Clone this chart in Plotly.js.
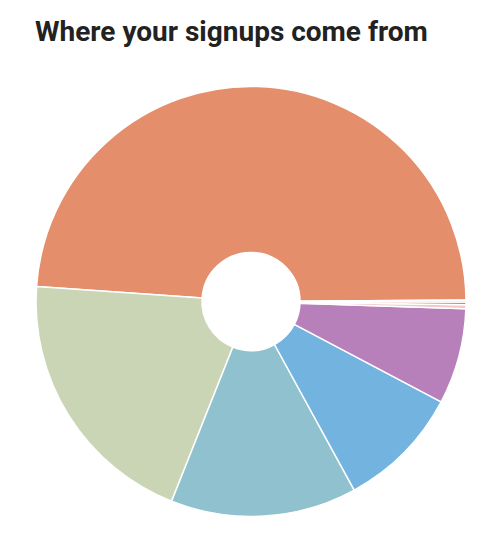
<!DOCTYPE html>
<html>
<head>
<meta charset="utf-8">
<script src="https://cdn.plot.ly/plotly-3.0.1.min.js"></script>
<style>
  html, body { margin: 0; padding: 0; background: #fff; }
  #myDiv { width: 494px; height: 552px; }
</style>
</head>
<body>
<div id="myDiv"></div>
<script>
// signup sources (percent of total)
var sources = ["Organic search", "Referral", "Social", "Direct", "Email", "Paid ads", "Events", "Other"];
var shares = [48.8, 20.1, 14.0, 9.3, 7.2, 0.3, 0.2, 0.15];
var sliceColors = ["#E48E6B", "#CAD5B6", "#8FC1CE", "#72B3DF", "#B880BA", "#F2C6C6", "#D9777A", "#C9DDB5"];

var trace = {
  type: "pie",
  labels: sources,
  values: shares,
  hole: 0.228,
  sort: true,
  direction: "counterclockwise",
  rotation: -86,
  textinfo: "none",
  hoverinfo: "label+percent",
  marker: {
    colors: sliceColors,
    line: { color: "#ffffff", width: 1.5 },
  },
};

var layout = {
  width: 494,
  height: 552,
  paper_bgcolor: "#ffffff",
  showlegend: false,
  margin: { l: 36, r: 28, t: 86, b: 35 },
  font: { family: "Roboto, sans-serif", color: "#222" },
  title: {
    text: "<b>Where your signups come from</b>",
    x: 35 / 494,
    xref: "container",
    xanchor: "left",
    y: 1 - 31 / 552,
    yref: "container",
    yanchor: "middle",
    font: { family: "Roboto, sans-serif", size: 28, color: "#222222" },
  },
};

Plotly.newPlot("myDiv", [trace], layout, { displayModeBar: false, staticPlot: true });
</script>
</body>
</html>
